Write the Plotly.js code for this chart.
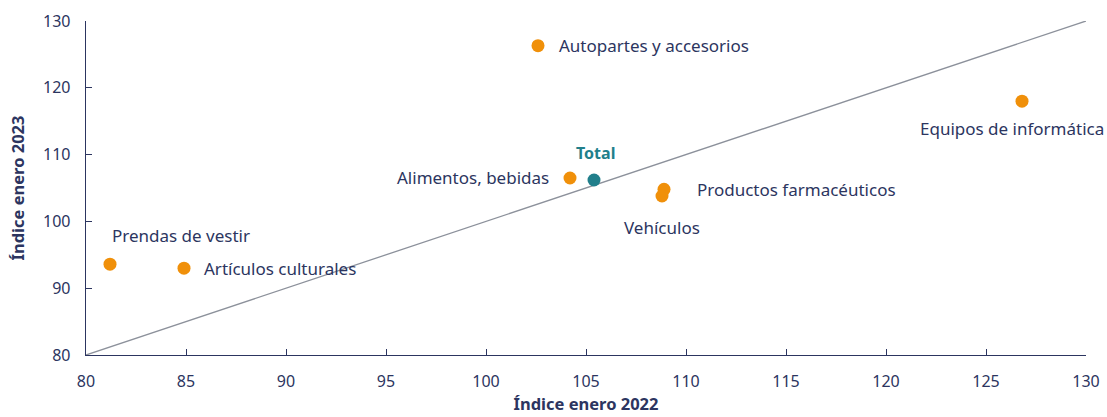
<!DOCTYPE html>
<html><head><meta charset="utf-8">
<script src="https://cdn.plot.ly/plotly-3.0.1.min.js"></script>
<style>html,body{margin:0;padding:0;background:#fff}#chart{width:1107px;height:417px}</style>
</head><body><div id="chart"></div>
<script>
const categories = ["Autopartes y accesorios","Equipos de informática","Alimentos, bebidas","Productos farmacéuticos","Vehículos","Prendas de vestir","Artículos culturales"];
const index2022 = [102.6, 126.8, 104.2, 108.9, 108.8, 81.2, 84.9];
const index2023 = [126.3, 118.0, 106.5, 104.8, 103.8, 93.6, 93.0];
const totalLabel = "Total";
const total2022 = [105.4];
const total2023 = [106.2];
const diagX = [80, 130];
const diagY = [80, 130];

const navy = "#2c3560";
const orange = "#f0900a";
const teal = "#217f8b";
const font = "'Noto Sans', sans-serif";

// label placement (style only)
const labelPlace = [
  {xanchor:"left", yanchor:"middle", xs:19, ys:0},
  {xanchor:"center", yanchor:"top", xs:-10, ys:-14},
  {xanchor:"right", yanchor:"middle", xs:-19, ys:0},
  {xanchor:"left", yanchor:"middle", xs:31, ys:0},
  {xanchor:"center", yanchor:"top", xs:0, ys:-18},
  {xanchor:"left", yanchor:"bottom", xs:0, ys:15},
  {xanchor:"left", yanchor:"middle", xs:18, ys:0}
];

const annotations = categories.map((c,i)=>({
  x:index2022[i], y:index2023[i], text:c, showarrow:false,
  xanchor:labelPlace[i].xanchor, yanchor:labelPlace[i].yanchor,
  xshift:labelPlace[i].xs, yshift:labelPlace[i].ys,
  font:{family:font, size:17, color:navy}
}));
annotations.push({x:total2022[0], y:total2023[0], text:"<b>"+totalLabel+"</b>", showarrow:false,
  xanchor:"center", yanchor:"bottom", yshift:14, xshift:1, font:{family:font, size:16, color:teal}});

const traces = [
  {x:diagX, y:diagY, mode:"lines", line:{color:"#8c919b", width:1.3}, hoverinfo:"skip"},
  {x:index2022, y:index2023, text:categories, mode:"markers", marker:{color:orange, size:13}},
  {x:total2022, y:total2023, text:[totalLabel], mode:"markers", marker:{color:teal, size:13}}
];

const axisCommon = {
  showgrid:false, zeroline:false, showline:true, linecolor:navy, linewidth:1.3,
  ticks:"inside", ticklen:6, tickcolor:navy, tickwidth:1,
  tickfont:{family:font, size:16, color:navy}
};

const layout = {
  width:1107, height:417,
  margin:{l:86, r:21, t:21, b:62},
  paper_bgcolor:"#fff", plot_bgcolor:"#fff",
  showlegend:false,
  xaxis:Object.assign({}, axisCommon, {range:[80,130], dtick:5, tick0:80,
    ticklabelstandoff:11,
    title:{text:"<b>Índice enero 2022</b>", font:{family:font, size:16.5, color:navy}, standoff:8}}),
  yaxis:Object.assign({}, axisCommon, {range:[80,130], dtick:10, tick0:80,
    ticklabelstandoff:11,
    title:{text:"<b>Índice enero 2023</b>", font:{family:font, size:16.5, color:navy}, standoff:14}}),
  annotations:annotations
};

Plotly.newPlot("chart", traces, layout, {displayModeBar:false, staticPlot:true});
</script></body></html>
